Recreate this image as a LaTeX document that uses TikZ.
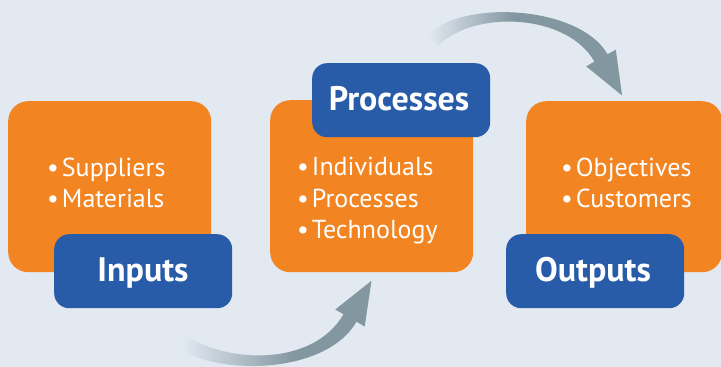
\documentclass[tikz,border=0pt]{standalone}
\usepackage{fontspec}
\setmainfont{PT Sans}
\usetikzlibrary{calc}
\definecolor{bgc}{HTML}{E2E9F1}
\definecolor{orng}{HTML}{F28522}
\definecolor{blu}{HTML}{285CA8}
\definecolor{arrc}{HTML}{8397A1}
\pgfdeclarehorizontalshading{fadeA}{100bp}{color(0bp)=(bgc); color(26bp)=(bgc); color(55bp)=(arrc); color(100bp)=(arrc)}
\pgfdeclarehorizontalshading{fadeB}{100bp}{color(0bp)=(bgc); color(25bp)=(bgc); color(47bp)=(arrc); color(100bp)=(arrc)}
\newcommand{\bul}{•\kern3pt}
\tikzset{
  obox/.style={rectangle, rounded corners=20pt, fill=orng, inner sep=0pt, anchor=north west},
  bbox/.style={rectangle, rounded corners=15pt, fill=blu, inner sep=0pt, anchor=north west},
  item/.style={anchor=base west, text=white, font=\fontsize{26}{31}\selectfont, inner sep=0pt},
  lbl/.style={text=white, font=\bfseries\fontsize{34}{40}\selectfont, anchor=base, inner sep=0pt}
}
\begin{document}
\begin{tikzpicture}[x=1pt, y=-1pt]
\useasboundingbox (0,0) rectangle (721,367);
\fill[bgc] (0,0) rectangle (721,367);
\clip (0,0) rectangle (721,367);
% bottom arrow
\coordinate (a0) at (182,342);
\coordinate (a1) at (225,370);
\coordinate (a2) at (320,370);
\coordinate (a3) at (350,318);
\coordinate (u0) at ($(a0)!7.5pt!90:(a1)$);
\coordinate (u1) at ($(a1)!7.5pt!-90:(a0)$);
\coordinate (u2) at ($(a2)!7.5pt!90:(a3)$);
\coordinate (u3) at ($(a3)!7.5pt!-90:(a2)$);
\coordinate (v0) at ($(a0)!7.5pt!-90:(a1)$);
\coordinate (v1) at ($(a1)!7.5pt!90:(a0)$);
\coordinate (v2) at ($(a2)!7.5pt!-90:(a3)$);
\coordinate (v3) at ($(a3)!7.5pt!90:(a2)$);
\coordinate (ub) at ($(a3)!17pt!-90:(a2)$);
\coordinate (vb) at ($(a3)!17pt!90:(a2)$);
\coordinate (tip) at ($(a3)!-43pt!(a2)$);
\shade[shading=fadeA] (u0) .. controls (u1) and (u2) .. (u3) -- (ub) -- (tip) -- (vb) -- (v3) .. controls (v2) and (v1) .. (v0) -- cycle;
% top arrow
\coordinate (b0) at (433,40);
\coordinate (b1) at (470,4);
\coordinate (b2) at (574,10);
\coordinate (b3) at (601,58);
\coordinate (p0) at ($(b0)!7.5pt!90:(b1)$);
\coordinate (p1) at ($(b1)!7.5pt!-90:(b0)$);
\coordinate (p2) at ($(b2)!7.5pt!90:(b3)$);
\coordinate (p3) at ($(b3)!7.5pt!-90:(b2)$);
\coordinate (q0) at ($(b0)!7.5pt!-90:(b1)$);
\coordinate (q1) at ($(b1)!7.5pt!90:(b0)$);
\coordinate (q2) at ($(b2)!7.5pt!-90:(b3)$);
\coordinate (q3) at ($(b3)!7.5pt!90:(b2)$);
\coordinate (pb) at ($(b3)!17pt!-90:(b2)$);
\coordinate (qb) at ($(b3)!17pt!90:(b2)$);
\coordinate (tip2) at ($(b3)!-43pt!(b2)$);
\shade[shading=fadeB] (p0) .. controls (p1) and (p2) .. (p3) -- (pb) -- (tip2) -- (qb) -- (q3) .. controls (q2) and (q1) .. (q0) -- cycle;
% inputs
\node[obox, minimum width=203pt, minimum height=171pt] (inbox) at (8,101) {};
\node[item] (s1) at (47,176) {\bul Suppliers};
\node[item] (s2) at (47,207) {\bul Materials};
\node[bbox, minimum width=178pt, minimum height=74pt] (inlbl) at (54,234) {};
\node[lbl] (intext) at (143,281) {Inputs};
% processes
\node[obox, minimum width=203pt, minimum height=172pt] (prbox) at (270,100) {};
\node[item] (p1t) at (297,175) {\bul Individuals};
\node[item] (p2t) at (297,207) {\bul Processes};
\node[item] (p3t) at (297,238) {\bul Technology};
\node[bbox, minimum width=178pt, minimum height=74pt] (prlbl) at (312,63) {};
\node[lbl] (prtext) at (399,110) {Processes};
% outputs
\node[obox, minimum width=196pt, minimum height=171pt] (outbox) at (526,101) {};
\node[item] (o1) at (561,176) {\bul Objectives};
\node[item] (o2) at (561,207) {\bul Customers};
\node[bbox, minimum width=178pt, minimum height=74pt] (outlbl) at (506,234) {};
\node[lbl] (outtext) at (593,281) {Outputs};
\end{tikzpicture}
\end{document}
